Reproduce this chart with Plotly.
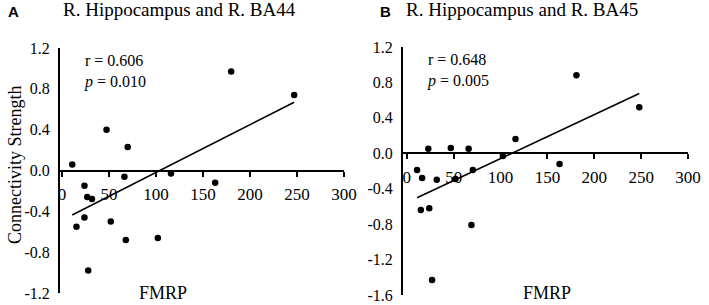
import numpy as np
import plotly.graph_objects as go

# ---------------- data ----------------
fmrp_a = [11, 27, 24, 32, 15.5, 24, 28, 47.5, 52, 70, 66.5, 68, 102, 116, 163, 180, 247]
conn_a = [0.06, -0.26, -0.15, -0.28, -0.55, -0.46, -0.98, 0.40, -0.50, 0.23, -0.06, -0.68, -0.66, -0.03, -0.12, 0.97, 0.74]

fmrp_b = [23, 47, 66, 11, 16.4, 32, 52, 70.5, 15, 24, 69, 27, 102.5, 116, 163, 181, 248]
conn_b = [0.05, 0.06, 0.05, -0.19, -0.28, -0.30, -0.29, -0.19, -0.64, -0.62, -0.81, -1.43, -0.03, 0.16, -0.12, 0.88, 0.52]

x_ticks = [0, 50, 100, 150, 200, 250, 300]
x_tick_text = ["0", "50", "100", "150", "200", "250", "300"]
y_ticks_a = [1.2, 0.8, 0.4, 0.0, -0.4, -0.8, -1.2]
y_tick_text_a = ["1.2", "0.8", "0.4", "0.0", "-0.4", "-0.8", "-1.2"]
y_ticks_b = [1.2, 0.8, 0.4, 0.0, -0.4, -0.8, -1.2, -1.6]
y_tick_text_b = ["1.2", "0.8", "0.4", "0.0", "-0.4", "-0.8", "-1.2", "-1.6"]

titles = ["R. Hippocampus and R. BA44", "R. Hippocampus and R. BA45"]
panel_letters = ["A", "B"]
stats_r = ["r = 0.606", "r = 0.648"]
stats_p = ["<i>p</i> = 0.010", "<i>p</i> = 0.005"]

W, H = 709, 305
SERIF = "Liberation Serif"
SANS = "Liberation Sans"

fig = go.Figure()

panels = [
    dict(x=fmrp_a, y=conn_a, xr=[-2, 300], yr=[-1.2, 1.2], xd=[60, 344], yd=[48, 293],
         yt=y_ticks_a, ytt=y_tick_text_a, xs="x", ys="y", xa="xaxis", ya="yaxis", fm=163),
    dict(x=fmrp_b, y=conn_b, xr=[-4, 300], yr=[-1.6, 1.2], xd=[403, 688], yd=[47, 295],
         yt=y_ticks_b, ytt=y_tick_text_b, xs="x2", ys="y2", xa="xaxis2", ya="yaxis2", fm=547),
]

layout = dict(template="none", width=W, height=H, margin=dict(l=0, r=0, t=0, b=0, pad=0),
              paper_bgcolor="white", plot_bgcolor="white", showlegend=False,
              font=dict(family=SERIF, color="black", size=16))
annotations = []

for i, p in enumerate(panels):
    xs = np.array(p["x"], float)
    ys = np.array(p["y"], float)
    slope, icpt = np.polyfit(xs, ys, 1)
    fx = np.array([xs.min(), xs.max()])
    fig.add_trace(go.Scatter(x=fx, y=slope * fx + icpt, mode="lines",
                             line=dict(color="black", width=1.6),
                             xaxis=p["xs"], yaxis=p["ys"], hoverinfo="skip"))
    fig.add_trace(go.Scatter(x=p["x"], y=p["y"], mode="markers",
                             marker=dict(color="black", size=6.5),
                             xaxis=p["xs"], yaxis=p["ys"], cliponaxis=False))

    xdom = [p["xd"][0] / W, p["xd"][1] / W]
    ydom = [(H - p["yd"][1]) / H, (H - p["yd"][0]) / H]
    y0, y1 = p["yr"]
    zero_pos = ydom[0] + (0 - y0) / (y1 - y0) * (ydom[1] - ydom[0])

    layout[p["xa"]] = dict(domain=xdom, range=p["xr"], anchor="free", position=zero_pos,
                           automargin=False,
                           showline=True, linecolor="black", linewidth=2,
                           ticks="outside", ticklen=5, tickwidth=1.5, tickcolor="black",
                           tickvals=x_ticks, ticktext=x_tick_text, ticklabelstandoff=3,
                           showgrid=False, zeroline=False,
                           tickfont=dict(family=SERIF, size=17, color="black"))
    layout[p["ya"]] = dict(domain=ydom, range=p["yr"], anchor=p["xs"], automargin=False,
                           showline=True, linecolor="black", linewidth=2,
                           ticks="", tickvals=p["yt"], ticktext=p["ytt"],
                           ticklabelstandoff=5, showgrid=False, zeroline=False,
                           tickfont=dict(family=SERIF, size=16, color="black"))

    annotations.append(dict(text=titles[i], xref="paper", yref="paper",
                            x=xdom[0] + 1 / W, y=1 + 3 / H, xanchor="left", yanchor="top",
                            showarrow=False, font=dict(family=SERIF, size=19, color="black")))
    annotations.append(dict(text="<b>" + panel_letters[i] + "</b>", xref="paper", yref="paper",
                            x=xdom[0] - 54 / W if i == 0 else xdom[0] - 25 / W, y=1 - 1 / H,
                            xanchor="left", yanchor="top", showarrow=False,
                            font=dict(family=SANS, size=15, color="black")))
    annotations.append(dict(text="FMRP", xref="paper", yref="paper",
                            x=p["fm"] / W, y=0, xanchor="center", yanchor="bottom",
                            showarrow=False, font=dict(family=SERIF, size=18, color="black")))
    annotations.append(dict(text=stats_r[i] + "<br>" + stats_p[i], xref="paper", yref="paper",
                            x=xdom[0] + 22 / W, y=ydom[1] - 2 / H, xanchor="left", yanchor="top",
                            align="left", showarrow=False,
                            font=dict(family=SERIF, size=16, color="black")))

annotations.append(dict(text="Connectivity Strength", xref="paper", yref="paper",
                        x=15 / W, y=(H - 165) / H, xanchor="center", yanchor="middle",
                        textangle=-90, showarrow=False,
                        font=dict(family=SERIF, size=18, color="black")))

layout["annotations"] = annotations
fig.update_layout(**layout)
fig.write_html("out.html", config={"displayModeBar": False},
               post_script="document.body.style.margin='0px';document.body.style.overflow='hidden';")
